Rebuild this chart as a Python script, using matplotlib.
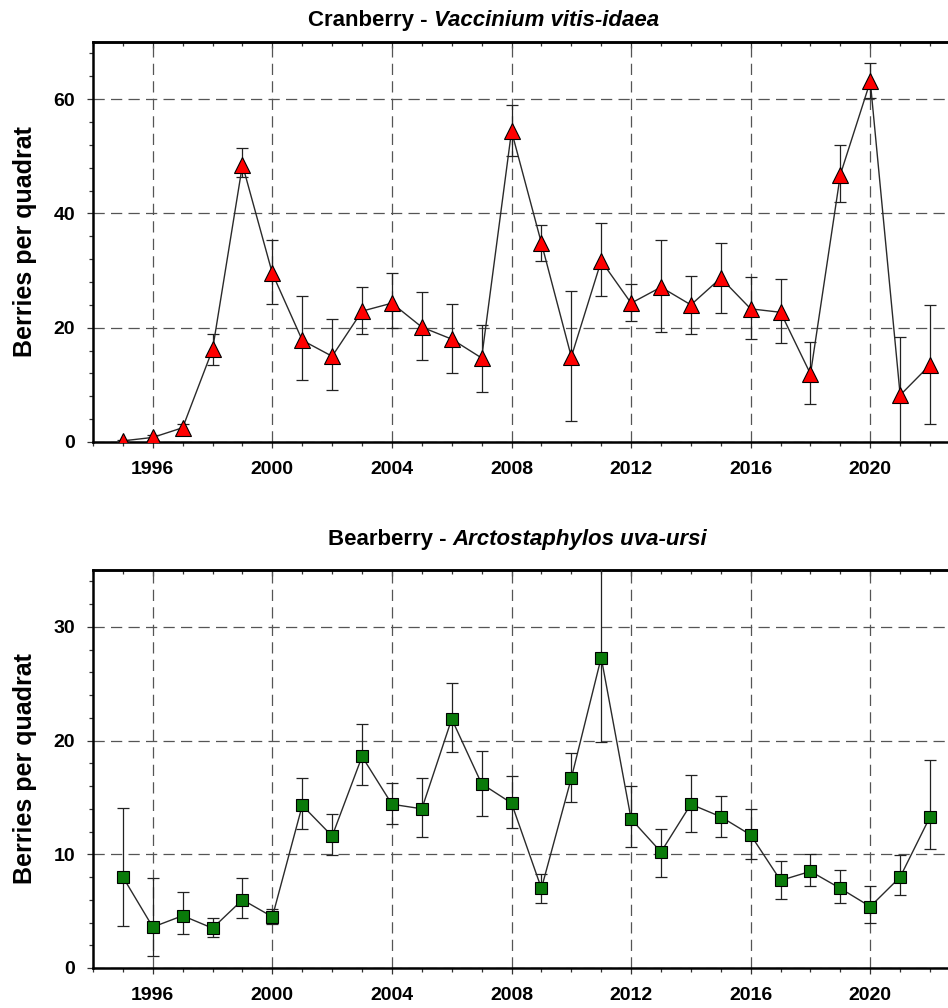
import matplotlib
matplotlib.use("Agg")
import matplotlib.pyplot as plt
import numpy as np
from matplotlib.ticker import MultipleLocator

plt.rcParams["font.family"] = ["Liberation Sans", "DejaVu Sans"]

years = list(range(1995, 2023))

# Cranberry - Vaccinium vitis-idaea: mean, lower and upper error limits
cran_mean = [0.2, 0.8, 2.5, 16.2, 48.5, 29.5, 17.8, 15.0, 22.9, 24.3, 20.1, 18.0, 14.7, 54.4,
             34.8, 14.9, 31.7, 24.3, 27.1, 24.0, 28.7, 23.3, 22.7, 11.9, 46.8, 63.1, 8.2, 13.5]
cran_lo = [0.0, 0.3, 1.8, 13.5, 46.4, 24.1, 10.8, 9.1, 18.9, 19.9, 14.3, 12.1, 8.7, 50.0,
           31.7, 3.7, 25.5, 21.2, 19.2, 18.9, 22.6, 18.0, 17.3, 6.6, 42.0, 60.2, -1.8, 3.1]
cran_hi = [0.4, 1.3, 3.2, 18.9, 51.5, 35.3, 25.6, 21.5, 27.1, 29.6, 26.2, 24.1, 20.5, 58.9,
           38.0, 26.4, 38.3, 27.6, 35.3, 29.1, 34.8, 28.9, 28.5, 17.5, 52.0, 66.3, 18.3, 24.0]

# Bearberry - Arctostaphylos uva-ursi
bear_mean = [8.0, 3.6, 4.6, 3.5, 6.0, 4.5, 14.3, 11.6, 18.6, 14.4, 14.0, 21.9, 16.2, 14.5,
             7.0, 16.7, 27.3, 13.1, 10.2, 14.4, 13.3, 11.7, 7.7, 8.5, 7.0, 5.4, 8.0, 13.3]
bear_lo = [3.7, 1.05, 3.0, 2.7, 4.4, 3.9, 12.2, 9.9, 16.1, 12.7, 11.5, 19.0, 13.4, 12.3,
           5.7, 14.6, 19.9, 10.6, 8.0, 12.0, 11.5, 9.6, 6.1, 7.2, 5.7, 4.0, 6.4, 10.5]
bear_hi = [14.1, 7.9, 6.7, 4.4, 7.9, 5.2, 16.7, 13.5, 21.5, 16.3, 16.7, 25.1, 19.1, 16.9,
           8.3, 18.9, 35.5, 16.0, 12.2, 17.0, 15.1, 14.0, 9.4, 10.0, 8.6, 7.2, 9.9, 18.3]


def draw_panel(ax, mean, lo, hi, marker, color, msize, ymax, ymajor, yminor):
    mean = np.asarray(mean)
    yerr = np.vstack([mean - np.asarray(lo), np.asarray(hi) - mean])
    ax.errorbar(years, mean, yerr=yerr, fmt="none", ecolor="#222222",
                elinewidth=0.9, capsize=4.5, capthick=0.9, zorder=3)
    ax.plot(years, mean, "-", color="#2a2a2a", lw=1.0, zorder=4)
    ax.plot(years, mean, linestyle="none", marker=marker, markersize=msize,
            markerfacecolor=color, markeredgecolor="black", markeredgewidth=0.8, zorder=5)

    ax.set_xlim(1994, 2022.6)
    ax.set_ylim(0, ymax)
    ax.xaxis.set_major_locator(MultipleLocator(4))
    ax.xaxis.set_minor_locator(MultipleLocator(1))
    ax.yaxis.set_major_locator(MultipleLocator(ymajor))
    ax.yaxis.set_minor_locator(MultipleLocator(yminor))
    ax.grid(True, which="major", color="#555555", lw=0.9, linestyle=(0, (9, 5)))
    ax.set_axisbelow(True)

    ax.spines["right"].set_visible(False)
    for side in ["left", "top", "bottom"]:
        ax.spines[side].set_linewidth(1.8)
    ax.tick_params(axis="x", which="both", direction="out", bottom=True, top=False,
                   width=0.9, colors="#333333", labelcolor="black")
    ax.tick_params(axis="x", which="major", length=4, pad=10, labelsize=14)
    ax.tick_params(axis="x", which="minor", length=3)
    ax.tick_params(axis="y", which="both", direction="out", width=0.9,
                   colors="#333333", labelcolor="black")
    ax.tick_params(axis="y", which="major", length=4, pad=9, labelsize=14)
    ax.tick_params(axis="y", which="minor", length=3)
    sec = ax.secondary_xaxis("top")
    sec.xaxis.set_major_locator(MultipleLocator(4))
    sec.xaxis.set_minor_locator(MultipleLocator(1))
    sec.tick_params(which="both", direction="in", labeltop=False, width=0.9, colors="#333333")
    sec.tick_params(which="major", length=4)
    sec.tick_params(which="minor", length=3)
    sec.spines["top"].set_linewidth(1.8)
    for lab in ax.get_xticklabels() + ax.get_yticklabels():
        lab.set_fontweight("bold")
    ax.set_ylabel("Berries per quadrat", fontsize=18, fontweight="bold")
    ax.yaxis.set_label_coords(-0.066, 0.5)


fig = plt.figure(figsize=(9.48, 10.08), dpi=100)
ax1 = fig.add_axes([93 / 948, 1 - 442 / 1008, 1 - 93 / 948, 400 / 1008])
ax2 = fig.add_axes([93 / 948, 1 - 968 / 1008, 1 - 93 / 948, 398 / 1008])

draw_panel(ax1, cran_mean, cran_lo, cran_hi, "^", "#ff0000", 11.5, 70, 20, 4)
draw_panel(ax2, bear_mean, bear_lo, bear_hi, "s", "#0a7a0a", 9, 35, 10, 2)

# title = bold common name followed by bold italic latin name
titles = [(308, 26, "Cranberry - ", "Vaccinium vitis-idaea"),
          (328, 545, "Bearberry - ", "Arctostaphylos uva-ursi")]
for x, y, common, latin in titles:
    t1 = fig.text(x / 948, 1 - y / 1008, common, fontsize=16, fontweight="bold",
                  ha="left", va="baseline")
    fig.add_artist(plt.Annotation(latin, xy=(1, 0), xycoords=t1, fontsize=16,
                                  fontweight="bold", fontstyle="italic",
                                  ha="left", va="bottom", annotation_clip=False))

fig.savefig("out.png", dpi=100)
